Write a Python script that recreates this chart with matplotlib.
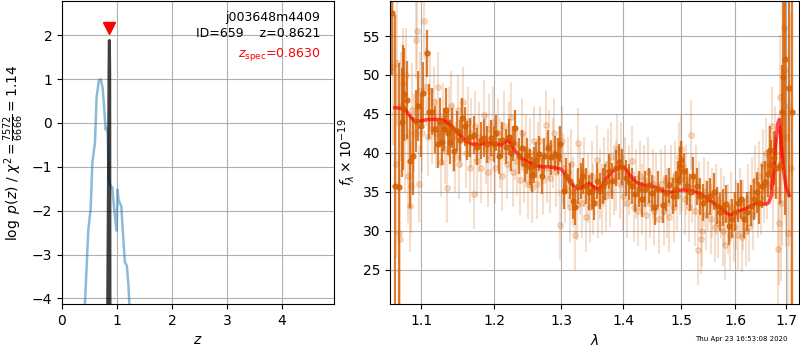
import numpy as np
import matplotlib
matplotlib.use('Agg')
import matplotlib.pyplot as plt
from matplotlib.ticker import NullFormatter, NullLocator

# ---- p(z) panel data ----
z_coarse = [0.30, 0.418, 0.479, 0.521, 0.552, 0.600, 0.630, 0.673, 0.703, 0.740, 0.770,
            0.794, 0.810, 0.830, 0.850, 0.885, 0.915, 0.945, 0.982, 0.995, 1.010, 1.030,
            1.050, 1.080, 1.100, 1.145, 1.180, 1.210, 1.225, 1.300]
logpz_coarse = [-7.0, -4.10, -2.43, -1.97, -0.91, -0.45, 0.60, 0.98, 1.00, 0.80, 0.30,
                -0.15, -0.10, -0.22, -1.29, -1.44, -1.47, -1.90, -2.35, -2.45, -1.52, -1.75,
                -1.82, -1.90, -2.35, -3.18, -3.25, -3.71, -4.10, -6.0]

z_fine = [0.800, 0.830, 0.850, 0.856, 0.862, 0.868, 0.873, 0.890]
logpz_fine = [-7.0, -4.5, -0.5, 1.2, 1.88, 1.2, -4.5, -7.0]

z_best = 0.8621
z_spec = 0.8630

# ---- spectrum panel data ----
wave_bin = [1.063, 1.066, 1.072, 1.075, 1.076, 1.078, 1.082, 1.086, 1.089, 1.093, 1.096, 1.100,
            1.103, 1.108, 1.110, 1.115, 1.119, 1.122, 1.125, 1.128, 1.131, 1.133, 1.136, 1.138,
            1.141, 1.144, 1.148, 1.152, 1.155, 1.159, 1.162, 1.166, 1.171, 1.176, 1.181, 1.186,
            1.190, 1.195, 1.200, 1.203, 1.207, 1.212, 1.217, 1.221, 1.224, 1.228, 1.231, 1.236,
            1.241, 1.245, 1.248, 1.252, 1.255, 1.258, 1.261, 1.266, 1.270, 1.274, 1.279, 1.284,
            1.290, 1.295, 1.298, 1.304, 1.308, 1.313, 1.318, 1.321, 1.326, 1.331, 1.334, 1.339,
            1.344, 1.349, 1.352, 1.357, 1.362, 1.367, 1.370, 1.376, 1.381, 1.387, 1.392, 1.398,
            1.404, 1.409, 1.415, 1.420, 1.426, 1.431, 1.437, 1.443, 1.448, 1.454, 1.459, 1.467,
            1.473, 1.479, 1.485, 1.490, 1.494, 1.497, 1.500, 1.505, 1.511, 1.515, 1.522, 1.528,
            1.534, 1.540, 1.546, 1.552, 1.559, 1.565, 1.571, 1.577, 1.583, 1.588, 1.593, 1.599,
            1.605, 1.611, 1.617, 1.623, 1.630, 1.635, 1.641, 1.646, 1.651, 1.657, 1.664, 1.667,
            1.670, 1.676, 1.680, 1.687, 1.691, 1.693, 1.697, 1.705, 1.711]
flux_bin = [58.0, 35.7, 35.6, 43.9, 45.8, 47.5, 46.8, 38.9, 39.6, 44.1, 46.0, 43.5,
            47.7, 52.8, 45.3, 45.3, 43.0, 41.1, 44.0, 41.4, 43.0, 45.5, 42.5, 41.4,
            43.2, 40.2, 42.8, 41.6, 44.5, 43.4, 41.6, 42.0, 42.3, 40.8, 41.6, 41.9,
            41.1, 41.9, 41.1, 42.5, 39.6, 41.6, 40.8, 42.0, 40.0, 41.2, 43.2, 39.6,
            40.6, 38.5, 39.6, 38.2, 37.2, 38.4, 39.1, 39.9, 37.0, 39.6, 40.6, 39.4,
            39.9, 39.6, 41.1, 35.1, 37.0, 36.4, 33.8, 33.0, 35.7, 36.4, 37.0, 35.7,
            34.9, 35.1, 33.6, 36.4, 35.1, 35.7, 36.2, 37.6, 36.4, 38.0, 38.8, 38.2,
            36.8, 36.2, 35.7, 34.7, 35.3, 34.0, 35.3, 35.8, 34.8, 33.0, 35.3, 33.3,
            34.8, 35.8, 34.4, 35.3, 36.5, 38.3, 39.1, 37.6, 35.7, 34.9, 37.0, 35.7,
            34.4, 33.6, 34.0, 34.4, 35.0, 33.2, 32.4, 33.0, 33.4, 30.6, 31.5, 32.4,
            33.6, 34.0, 31.5, 32.4, 33.2, 34.0, 34.9, 33.5, 35.7, 36.2, 37.3, 40.4,
            38.4, 39.3, 38.0, 38.4, 45.3, 49.8, 52.0, 48.3, 45.3]
err_bin = [8.0, 22.0, 16.0, 7.0, 8.0, 6.0, 5.0, 6.0, 5.0, 4.0, 4.5, 4.0,
           4.0, 3.0, 3.5, 3.0, 3.0, 3.0, 3.0, 3.0, 2.8, 2.8, 2.8, 2.8,
           2.6, 2.6, 2.6, 2.6, 2.5, 2.5, 2.5, 2.5, 2.4, 2.4, 2.4, 2.4,
           2.4, 2.3, 2.3, 2.3, 2.3, 2.3, 2.3, 2.3, 2.3, 2.3, 2.3, 2.3,
           2.3, 2.3, 2.3, 2.3, 2.3, 2.3, 2.3, 2.3, 2.3, 2.3, 2.3, 2.3,
           2.3, 2.3, 2.3, 2.3, 2.3, 2.3, 2.3, 2.3, 2.3, 2.3, 2.3, 2.3,
           2.3, 2.3, 2.3, 2.3, 2.3, 2.3, 2.3, 2.3, 2.3, 2.3, 2.3, 2.3,
           2.3, 2.3, 2.3, 2.3, 2.3, 2.3, 2.3, 2.3, 2.3, 2.3, 2.3, 2.3,
           2.3, 2.3, 2.3, 2.3, 2.4, 2.4, 2.4, 2.4, 2.4, 2.4, 2.4, 2.4,
           2.4, 2.4, 2.4, 2.4, 2.4, 2.4, 2.4, 2.4, 2.4, 2.5, 2.5, 2.5,
           2.5, 2.5, 2.5, 2.5, 2.6, 2.6, 2.6, 2.7, 2.8, 2.8, 3.0, 3.0,
           3.2, 3.5, 4.0, 5.0, 6.0, 12.0, 20.0, 14.0, 26.0]

wave_raw = [1.064, 1.067, 1.069, 1.071, 1.073, 1.074, 1.077, 1.079, 1.081, 1.083, 1.085, 1.087,
            1.088, 1.091, 1.093, 1.095, 1.097, 1.099, 1.101, 1.104, 1.106, 1.109, 1.112, 1.114,
            1.117, 1.120, 1.123, 1.126, 1.129, 1.132, 1.135, 1.137, 1.140, 1.143, 1.146, 1.149,
            1.151, 1.154, 1.157, 1.160, 1.163, 1.166, 1.168, 1.171, 1.173, 1.176, 1.179, 1.182,
            1.185, 1.188, 1.191, 1.193, 1.196, 1.199, 1.202, 1.205, 1.209, 1.211, 1.214, 1.218,
            1.222, 1.225, 1.227, 1.230, 1.233, 1.238, 1.240, 1.243, 1.247, 1.250, 1.253, 1.256,
            1.259, 1.263, 1.265, 1.268, 1.272, 1.276, 1.278, 1.281, 1.283, 1.287, 1.289, 1.292,
            1.296, 1.298, 1.301, 1.303, 1.306, 1.310, 1.313, 1.316, 1.319, 1.321, 1.324, 1.327,
            1.330, 1.333, 1.336, 1.339, 1.342, 1.345, 1.348, 1.351, 1.356, 1.358, 1.361, 1.364,
            1.368, 1.372, 1.374, 1.378, 1.380, 1.384, 1.387, 1.390, 1.394, 1.396, 1.400, 1.402,
            1.406, 1.410, 1.415, 1.417, 1.421, 1.424, 1.428, 1.432, 1.435, 1.439, 1.441, 1.445,
            1.450, 1.452, 1.456, 1.461, 1.464, 1.469, 1.471, 1.475, 1.478, 1.482, 1.487, 1.489,
            1.493, 1.496, 1.498, 1.500, 1.502, 1.507, 1.509, 1.513, 1.518, 1.520, 1.524, 1.526,
            1.530, 1.532, 1.536, 1.538, 1.542, 1.544, 1.549, 1.554, 1.556, 1.561, 1.563, 1.568,
            1.573, 1.576, 1.579, 1.581, 1.585, 1.590, 1.592, 1.597, 1.601, 1.604, 1.608, 1.612,
            1.615, 1.620, 1.624, 1.627, 1.632, 1.634, 1.638, 1.643, 1.645, 1.649, 1.653, 1.656,
            1.660, 1.662, 1.666, 1.672, 1.674, 1.678, 1.683, 1.685, 1.687, 1.690, 1.692, 1.695,
            1.697, 1.699, 1.703, 1.706, 1.709]
flux_raw = [51.0, 38.5, 51.5, 29.7, 28.9, 46.0, 49.0, 42.0, 50.0, 37.0, 33.2, 35.7,
            45.5, 42.5, 54.5, 55.7, 36.0, 48.0, 42.5, 57.0, 48.5, 42.0, 48.0, 43.0,
            46.5, 42.5, 48.5, 38.8, 44.5, 40.5, 35.5, 44.0, 46.0, 42.0, 39.5, 45.5,
            38.5, 42.5, 46.5, 40.0, 44.0, 38.0, 42.5, 34.7, 43.5, 39.0, 42.0, 38.0,
            44.8, 40.5, 37.5, 43.0, 39.5, 44.0, 38.0, 42.5, 40.0, 37.0, 43.5, 38.5,
            42.0, 44.6, 37.5, 41.0, 39.0, 36.5, 42.5, 38.0, 40.5, 36.0, 40.0, 35.5,
            41.5, 36.0, 39.5, 41.5, 36.5, 43.6, 38.0, 41.0, 36.8, 40.0, 42.5, 37.5,
            39.0, 30.7, 41.5, 38.0, 35.5, 37.5, 33.0, 38.5, 35.0, 29.5, 33.3, 41.3,
            36.5, 33.5, 37.5, 31.7, 35.5, 33.0, 37.0, 34.0, 39.1, 33.5, 36.0, 34.0,
            37.5, 34.5, 38.5, 35.0, 39.5, 36.5, 37.0, 40.5, 36.0, 39.5, 34.5, 37.5,
            33.5, 36.5, 38.9, 33.0, 36.0, 32.5, 37.0, 34.0, 36.5, 32.0, 37.5, 33.5,
            36.0, 32.5, 35.5, 31.5, 36.0, 32.5, 36.5, 33.5, 31.8, 36.5, 33.0, 37.0,
            34.5, 39.5, 36.5, 40.5, 37.0, 34.0, 36.5, 33.0, 42.3, 35.5, 32.5, 36.5,
            27.5, 34.5, 28.9, 30.0, 35.0, 32.0, 34.5, 31.5, 33.5, 30.5, 34.0, 31.0,
            33.5, 30.0, 32.5, 28.2, 31.5, 29.5, 33.0, 30.5, 32.0, 29.5, 33.5, 29.2,
            32.0, 30.0, 34.0, 30.5, 35.0, 32.0, 36.5, 33.5, 37.0, 34.0, 38.5, 35.5,
            40.0, 36.0, 38.5, 43.4, 35.0, 40.0, 27.6, 31.0, 47.2, 33.5, 38.0, 56.0,
            50.7, 42.0, 29.7, 46.0, 38.0]
err_raw = [10, 12, 8, 10, 9, 7, 7, 7, 6, 6, 6, 6,
           6, 5, 5, 5, 5, 5, 5, 5, 5, 5, 5, 4.5,
           4.5, 4.5, 4.5, 4.5, 4.5, 4.5, 4.5, 4.5, 4.5, 4.5, 4.5, 4.5,
           4.5, 4.5, 4.5, 4.5, 4.5, 4.5, 4.5, 4.5, 4.5, 4.5, 4.5, 4.5,
           4.5, 4.5, 4.5, 4.5, 4.5, 4.5, 4.5, 4.5, 4.5, 4.5, 4.5, 4.5,
           4.5, 4.5, 4.5, 4.5, 4.5, 4.5, 4.5, 4.5, 4.5, 4.5, 4.5, 4.5,
           4.5, 4.5, 4.5, 4.5, 4.5, 4.5, 4.5, 4.5, 4.5, 4.5, 4.5, 4.5,
           4.5, 4.5, 4.5, 4.5, 4.5, 4.5, 4.5, 4.5, 4.5, 4.5, 4.5, 4.5,
           4.5, 4.5, 4.5, 4.5, 4.5, 4.5, 4.5, 4.5, 4.5, 4.5, 4.5, 4.5,
           4.5, 4.5, 4.5, 4.5, 4.5, 4.5, 4.5, 4.5, 4.5, 4.5, 4.5, 4.5,
           4.5, 4.5, 4.5, 4.5, 4.5, 4.5, 4.5, 4.5, 4.5, 4.5, 4.5, 4.5,
           4.5, 4.5, 4.5, 4.5, 4.5, 4.5, 4.5, 4.5, 4.5, 4.5, 4.5, 4.5,
           4.5, 4.5, 4.5, 4.5, 4.5, 4.5, 4.5, 4.5, 4.5, 4.5, 4.5, 4.5,
           4.5, 4.5, 4.5, 4.5, 4.5, 4.5, 4.5, 4.5, 4.5, 4.5, 4.5, 4.5,
           4.5, 4.5, 4.5, 4.5, 4.5, 4.5, 4.5, 4.5, 4.5, 4.5, 4.5, 4.5,
           4.5, 4.5, 4.5, 4.5, 4.5, 4.5, 4.5, 4.5, 4.5, 4.5, 4.5, 4.5,
           4.5, 4.5, 5, 5, 5, 6, 8, 8, 8, 10, 10, 12,
           12, 14, 16, 18, 20]

wave_model = [1.066, 1.075, 1.080, 1.085, 1.090, 1.095, 1.100, 1.110, 1.120, 1.130, 1.140,
              1.150, 1.160, 1.170, 1.180, 1.190, 1.200, 1.210, 1.215, 1.220, 1.225, 1.230,
              1.240, 1.250, 1.260, 1.270, 1.280, 1.290, 1.300, 1.305, 1.310, 1.320, 1.325,
              1.330, 1.340, 1.345, 1.350, 1.355, 1.360, 1.365, 1.370, 1.380, 1.390, 1.395,
              1.400, 1.405, 1.410, 1.420, 1.430, 1.440, 1.450, 1.460, 1.470, 1.480, 1.490,
              1.500, 1.510, 1.520, 1.530, 1.540, 1.550, 1.560, 1.570, 1.580, 1.590, 1.600,
              1.610, 1.620, 1.630, 1.640, 1.650, 1.660, 1.665, 1.670, 1.675, 1.680, 1.683,
              1.686, 1.690, 1.695, 1.700, 1.706]
flux_model = [45.8, 45.7, 45.5, 44.8, 44.2, 44.0, 44.1, 44.3, 44.3, 44.2, 43.5,
              42.5, 41.5, 41.1, 41.1, 41.3, 41.2, 41.0, 41.3, 41.6, 41.2, 40.3,
              39.3, 38.8, 38.4, 38.2, 38.2, 38.1, 37.9, 37.4, 36.7, 35.7, 35.4,
              35.5, 35.9, 36.1, 35.7, 35.4, 35.3, 35.8, 36.5, 37.5, 38.0, 38.2,
              38.2, 37.8, 37.2, 36.3, 35.9, 35.8, 35.7, 35.4, 35.0, 34.9, 35.1,
              35.2, 35.2, 35.1, 34.9, 34.5, 34.0, 33.5, 33.0, 32.4, 32.0, 32.3,
              32.6, 32.8, 33.2, 33.5, 33.4, 33.4, 33.6, 34.5, 38.0, 42.0, 43.8,
              44.3, 41.0, 37.5, 35.5, 34.5]

wave_ticks = [1.1, 1.2, 1.3, 1.4, 1.5, 1.6, 1.7]

grism_color = (0.835, 0.369, 0.0)

fig = plt.figure(figsize=(8, 3.5), dpi=100)

# left: p(z)
ax1 = fig.add_axes([0.0775, 0.131, 0.34, 0.866])
ax1.plot(z_coarse, logpz_coarse, color='tab:blue', alpha=0.5, lw=1.8)
ax1.plot(z_fine, logpz_fine, color='k', alpha=0.75, lw=2.2)
ax1.plot([z_spec], [2.17], marker='v', color='r', ms=8, ls='none')
ax1.set_xlim(0, 4.95)
ax1.set_ylim(-4.13, 2.78)
ax1.set_xticks([0, 1, 2, 3, 4])
ax1.set_yticks([-4, -3, -2, -1, 0, 1, 2])
ax1.grid(True)
ax1.set_xlabel('$z$')
ax1.set_ylabel(r'$\log\ p(z)$ / $\chi^2=\frac{7572}{6666}=1.14$')
ax1.text(0.95, 0.945, 'j003648m4409', transform=ax1.transAxes, ha='right', va='center', fontsize=9)
ax1.text(0.95, 0.893, 'ID=659    z={0:.4f}'.format(z_best), transform=ax1.transAxes,
         ha='right', va='center', fontsize=9)
ax1.text(0.95, 0.825, r'$z_\mathrm{spec}$' + '={0:.4f}'.format(z_spec), transform=ax1.transAxes,
         ha='right', va='center', fontsize=9, color='r')

# right: spectrum
ax2 = fig.add_axes([0.4875, 0.131, 0.51125, 0.866])
ax2.errorbar(wave_raw, flux_raw, yerr=err_raw, color=grism_color, alpha=0.2,
             marker='o', ms=4, ls='none', elinewidth=1.5)
ax2.errorbar(wave_bin, flux_bin, yerr=err_bin, color=grism_color, alpha=0.8,
             marker='o', ms=3.5, ls='none', elinewidth=1.6)
ax2.plot(wave_model, flux_model, color='r', alpha=0.7, lw=2.5)
ax2.set_xscale('log')
ax2.xaxis.set_minor_locator(NullLocator())
ax2.xaxis.set_minor_formatter(NullFormatter())
ax2.set_xticks(wave_ticks)
ax2.set_xticklabels(['{0:.1f}'.format(t) for t in wave_ticks])
ax2.set_xlim(1.06, 1.726)
ax2.set_ylim(20.55, 59.5)
ax2.set_yticks([25, 30, 35, 40, 45, 50, 55])
ax2.grid(True)
ax2.set_xlabel(r'$\lambda$')
ax2.set_ylabel(r'$f_\lambda\times10^{-19}$')

fig.text(0.985, 0.031, 'Thu Apr 23 16:53:08 2020', ha='right', va='center', fontsize=5)

fig.savefig('out.png', dpi=100)
